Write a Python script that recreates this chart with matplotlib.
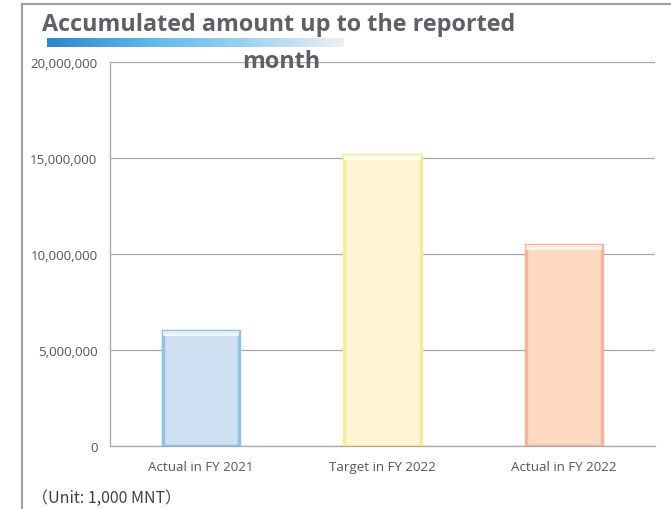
import numpy as np
import matplotlib.pyplot as plt
from matplotlib.lines import Line2D
from matplotlib.colors import LinearSegmentedColormap

# Chart data
categories = ['Actual in FY 2021', 'Target in FY 2022', 'Actual in FY 2022']
amounts = [6000000, 15150000, 10450000]
face_colors = ['#cde1f3', '#fff5d2', '#fdd9c0']
edge_colors = ['#8fc2e8', '#f3ea9a', '#f3b49a']
yticks = [0, 5000000, 10000000, 15000000, 20000000]

plt.rcParams['font.family'] = ['Open Sans', 'DejaVu Sans']

fig = plt.figure(figsize=(6.71, 5.10), dpi=100)
ax = fig.add_axes([110 / 671, 1 - 447 / 510, 545 / 671, 384 / 510])

x = np.arange(len(categories))
bars = ax.bar(x, amounts, width=0.42, color=face_colors, edgecolor=edge_colors,
              linewidth=2.5, zorder=3)
# light highlight along bar tops
for b in bars:
    ax.bar(b.get_x() + b.get_width() / 2, 250000, bottom=b.get_height() - 250000,
           width=b.get_width(), color='white', alpha=0.7, linewidth=0, zorder=4)

ax.set_xlim(-0.5, 2.5)
ax.set_ylim(0, 20000000)
ax.set_yticks(yticks)
ax.set_yticklabels([f'{v:,}' for v in yticks])
ax.set_xticks(x)
ax.set_xticklabels(categories)
ax.tick_params(axis='both', length=0, labelsize=9.6, colors='#555555')
ax.tick_params(axis='y', pad=9)
ax.tick_params(axis='x', pad=10)
ax.yaxis.grid(True, color='#a6a6a6', linewidth=0.9, zorder=0)
for s in ['top', 'right']:
    ax.spines[s].set_visible(False)
for s in ['left', 'bottom']:
    ax.spines[s].set_color('#a6a6a6')
    ax.spines[s].set_linewidth(0.9)

# outer frame lines (top and left)
fig.add_artist(Line2D([22 / 671, 1], [1 - 5 / 510, 1 - 5 / 510], color='#a0a0a0', lw=1.5))
fig.add_artist(Line2D([22 / 671, 22 / 671], [0, 1 - 5 / 510], color='#a0a0a0', lw=1.5))

# gradient under the title
grad = np.linspace(0, 1, 256).reshape(1, -1)
gax = fig.add_axes([47 / 671, 1 - 48 / 510, 296 / 671, 9 / 510])
cmap = LinearSegmentedColormap.from_list('t', ['#2f86c8', '#5fb5e8', '#9ad2f0', '#f0f0f0'])
gax.imshow(grad, aspect='auto', cmap=cmap)
gax.axis('off')

fig.text(42 / 671, 1 - 25 / 510, 'Accumulated amount up to the reported',
         fontsize=16.8, fontweight='bold', color='#5f5f65', va='center', ha='left')
fig.text(281 / 671, 1 - 62 / 510, 'month', fontsize=16.8, fontweight='bold',
         color='#5f5f65', va='center', ha='center')

fig.text(32 / 671, 1 - 498 / 510, '（Unit: 1,000 MNT）', fontsize=11.5, color='#404040',
         va='center', ha='left', family=['Noto Sans CJK JP', 'DejaVu Sans'])

fig.savefig('out.png', dpi=100)
